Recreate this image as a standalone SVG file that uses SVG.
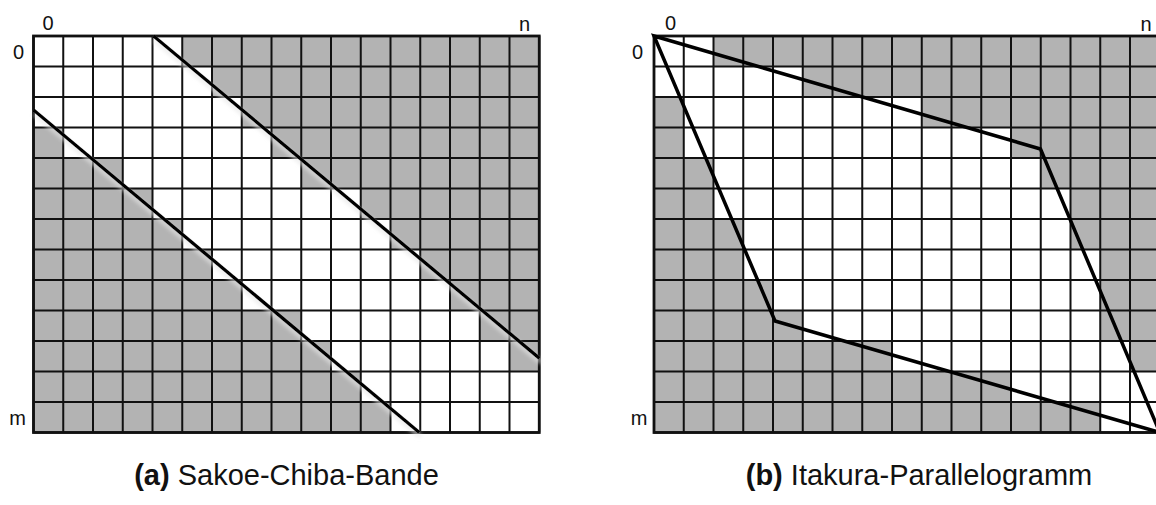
<svg xmlns="http://www.w3.org/2000/svg" xmlns:xlink="http://www.w3.org/1999/xlink" width="1156" height="505" viewBox="0 0 1156 505">
<style>
.g{fill:#b3b3b3}
.grid{fill:none;stroke:#111;stroke-width:2}
.frame{fill:none;stroke:#111;stroke-width:2.8}
.lbl{font-family:"Liberation Sans",Arial,sans-serif;font-size:20px;fill:#111}
.cap{font-family:"Liberation Sans",Arial,sans-serif;font-size:29px;fill:#111;text-anchor:middle}
.band{fill:none;stroke:#000;stroke-width:3.5;stroke-linejoin:miter}
</style>
<defs>
<path id="gridlines" d="M0 0V396.5M29.75 0V396.5M59.5 0V396.5M89.25 0V396.5M119 0V396.5M148.75 0V396.5M178.5 0V396.5M208.25 0V396.5M238 0V396.5M267.75 0V396.5M297.5 0V396.5M327.25 0V396.5M357 0V396.5M386.75 0V396.5M416.5 0V396.5M446.25 0V396.5M476 0V396.5M505.75 0V396.5M0 0H505.75M0 30.5H505.75M0 61H505.75M0 91.5H505.75M0 122H505.75M0 152.5H505.75M0 183H505.75M0 213.5H505.75M0 244H505.75M0 274.5H505.75M0 305H505.75M0 335.5H505.75M0 366H505.75M0 396.5H505.75"/>
<filter id="soft" x="-10%" y="-10%" width="120%" height="130%">
<feGaussianBlur in="SourceAlpha" stdDeviation="2.2" result="b"/>
<feOffset in="b" dx="1" dy="4" result="o"/>
<feFlood flood-color="#e6e6e6" flood-opacity="0.9"/>
<feComposite in2="o" operator="in" result="s"/>
<feMerge><feMergeNode in="s"/><feMergeNode in="SourceGraphic"/></feMerge>
</filter>
</defs>
<rect width="1156" height="505" fill="#fff"/>

<g id="panel-a">
<g id="a-cells">
<rect class="g" x="182.25" y="36" width="357" height="30.5"/>
<rect class="g" x="212" y="66.5" width="327.25" height="30.5"/>
<rect class="g" x="241.75" y="97" width="297.5" height="30.5"/>
<rect class="g" x="271.5" y="127.5" width="267.75" height="30.5"/>
<rect class="g" x="301.25" y="158" width="238" height="30.5"/>
<rect class="g" x="360.75" y="188.5" width="178.5" height="30.5"/>
<rect class="g" x="390.5" y="219" width="148.75" height="30.5"/>
<rect class="g" x="420.25" y="249.5" width="119" height="30.5"/>
<rect class="g" x="450" y="280" width="89.25" height="30.5"/>
<rect class="g" x="479.75" y="310.5" width="59.5" height="30.5"/>
<rect class="g" x="509.5" y="341" width="29.75" height="30.5"/>
<rect class="g" x="33.5" y="127.5" width="29.75" height="30.5"/>
<rect class="g" x="33.5" y="158" width="89.25" height="30.5"/>
<rect class="g" x="33.5" y="188.5" width="119" height="30.5"/>
<rect class="g" x="33.5" y="219" width="148.75" height="30.5"/>
<rect class="g" x="33.5" y="249.5" width="178.5" height="30.5"/>
<rect class="g" x="33.5" y="280" width="208.25" height="30.5"/>
<rect class="g" x="33.5" y="310.5" width="267.75" height="30.5"/>
<rect class="g" x="33.5" y="341" width="297.5" height="30.5"/>
<rect class="g" x="33.5" y="371.5" width="327.25" height="30.5"/>
<rect class="g" x="33.5" y="402" width="357" height="30.5"/>
</g>
<use xlink:href="#gridlines" href="#gridlines" class="grid" x="33.5" y="36"/>
<rect class="frame" x="33.5" y="36" width="505.75" height="396.5"/>
<g id="a-band" filter="url(#soft)">
<line class="band" x1="153.5" y1="36" x2="539.5" y2="358.3"/>
<line class="band" x1="33.5" y1="110" x2="419.3" y2="432.5"/>
</g>
<text class="lbl" x="48" y="30" text-anchor="middle">0</text>
<text class="lbl" x="18.5" y="59" text-anchor="middle">0</text>
<text class="lbl" x="524.5" y="30.5" text-anchor="middle">n</text>
<text class="lbl" x="17.5" y="425" text-anchor="middle">m</text>
<text class="cap" x="286.5" y="485"><tspan font-weight="bold">(a)</tspan> Sakoe-Chiba-Bande</text>
</g>

<g id="panel-b">
<g id="b-cells">
<rect class="g" x="713.5" y="36" width="446.25" height="30.5"/>
<rect class="g" x="802.75" y="66.5" width="357" height="30.5"/>
<rect class="g" x="921.75" y="97" width="238" height="30.5"/>
<rect class="g" x="1011" y="127.5" width="148.75" height="30.5"/>
<rect class="g" x="1040.75" y="158" width="119" height="30.5"/>
<rect class="g" x="1070.5" y="188.5" width="89.25" height="61"/>
<rect class="g" x="1100.25" y="249.5" width="59.5" height="91.5"/>
<rect class="g" x="1130" y="341" width="29.75" height="30.5"/>
<rect class="g" x="654" y="97" width="29.75" height="61"/>
<rect class="g" x="654" y="158" width="59.5" height="61"/>
<rect class="g" x="654" y="219" width="89.25" height="61"/>
<rect class="g" x="654" y="280" width="119" height="30.5"/>
<rect class="g" x="654" y="310.5" width="148.75" height="30.5"/>
<rect class="g" x="654" y="341" width="238" height="30.5"/>
<rect class="g" x="654" y="371.5" width="357" height="30.5"/>
<rect class="g" x="654" y="402" width="446.25" height="30.5"/>
</g>
<use xlink:href="#gridlines" href="#gridlines" class="grid" x="654" y="36"/>
<rect class="frame" x="654" y="36" width="505.75" height="396.5"/>
<g id="b-parallelogram">
<polygon class="band" points="654,36 1040.5,149 1159.75,432.5 775,321"/>
</g>
<text class="lbl" x="670.5" y="30" text-anchor="middle">0</text>
<text class="lbl" x="637.5" y="59" text-anchor="middle">0</text>
<text class="lbl" x="1146" y="30.5" text-anchor="middle">n</text>
<text class="lbl" x="639" y="425" text-anchor="middle">m</text>
<text class="cap" x="919" y="485"><tspan font-weight="bold">(b)</tspan> Itakura-Parallelogramm</text>
</g>
</svg>
